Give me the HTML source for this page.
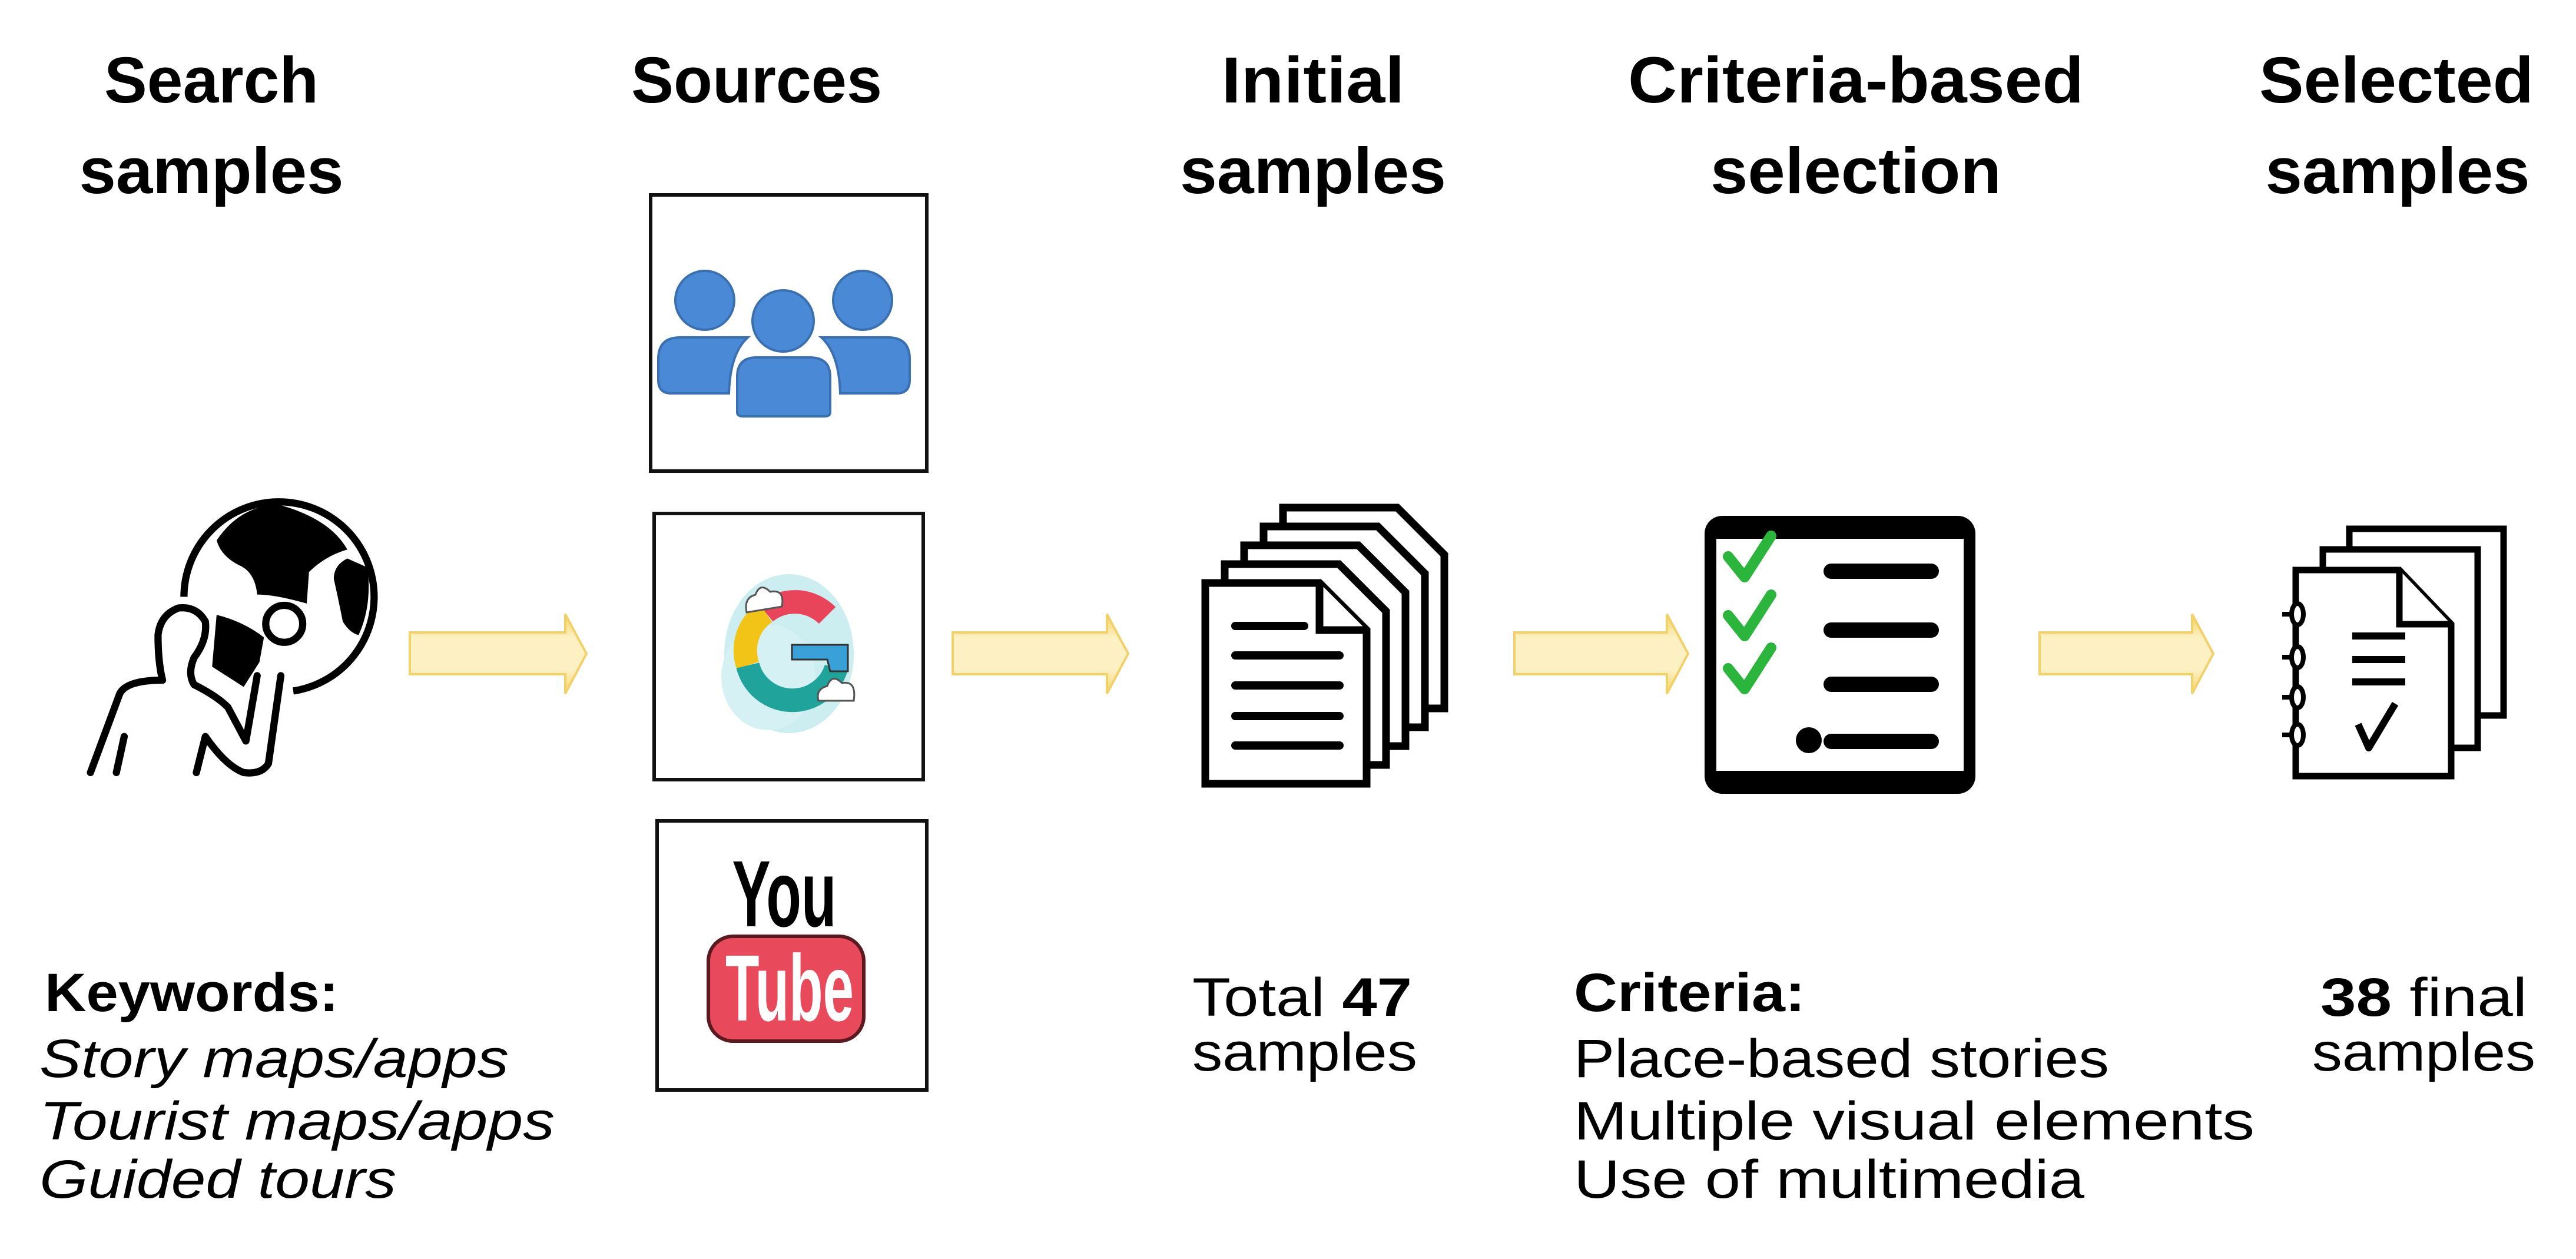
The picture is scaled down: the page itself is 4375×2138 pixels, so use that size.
<!DOCTYPE html>
<html><head><meta charset="utf-8"><style>
html,body{margin:0;padding:0;background:#fff;}
svg{display:block;}
text{font-family:"Liberation Sans",sans-serif;fill:#000;}
.h{font-weight:bold;font-size:110px;}
.b{font-size:92px;}
</style></head><body>
<svg width="4375" height="2138" viewBox="0 0 4375 2138" xmlns="http://www.w3.org/2000/svg">
<defs>
<linearGradient id="ag" x1="0" y1="0" x2="0" y2="1">
<stop offset="0" stop-color="#f4d366"/><stop offset="0.3" stop-color="#fdf1c4"/><stop offset="0.7" stop-color="#fdf1c4"/><stop offset="1" stop-color="#f4d366"/>
</linearGradient>
</defs>
<rect width="4375" height="2138" fill="#fff"/>

<!-- Headings -->
<text class="h" x="359" y="174" text-anchor="middle" textLength="364" lengthAdjust="spacingAndGlyphs">Search</text>
<text class="h" x="359" y="328" text-anchor="middle" textLength="449" lengthAdjust="spacingAndGlyphs">samples</text>
<text class="h" x="1285" y="174" text-anchor="middle" textLength="426" lengthAdjust="spacingAndGlyphs">Sources</text>
<text class="h" x="2230" y="174" text-anchor="middle" textLength="311" lengthAdjust="spacingAndGlyphs">Initial</text>
<text class="h" x="2230" y="328" text-anchor="middle" textLength="452" lengthAdjust="spacingAndGlyphs">samples</text>
<text class="h" x="3152" y="174" text-anchor="middle" textLength="774" lengthAdjust="spacingAndGlyphs">Criteria-based</text>
<text class="h" x="3152" y="328" text-anchor="middle" textLength="494" lengthAdjust="spacingAndGlyphs">selection</text>
<text class="h" x="4070" y="174" text-anchor="middle" textLength="466" lengthAdjust="spacingAndGlyphs">Selected</text>
<text class="h" x="4072" y="328" text-anchor="middle" textLength="449" lengthAdjust="spacingAndGlyphs">samples</text>

<!-- Arrows -->
<g fill="url(#ag)" stroke="#f2d06a" stroke-width="4">
<path d="M696,1074 H960 V1043 L996,1110 L960,1178 V1145 H696 Z"/>
<path d="M1618,1074 H1880 V1043 L1916,1110 L1880,1178 V1145 H1618 Z"/>
<path d="M2572,1074 H2831 V1043 L2867,1110 L2831,1178 V1145 H2572 Z"/>
<path d="M3464,1074 H3723 V1043 L3759,1110 L3723,1178 V1145 H3464 Z"/>
</g>

<!-- Source boxes -->
<g fill="#fff" stroke="#111" stroke-width="6">
<rect x="1105" y="331" width="469" height="469"/>
<rect x="1111" y="872" width="457" height="452"/>
<rect x="1116" y="1394" width="458" height="457"/>
</g>
<!-- users -->
<g fill="#4a89d6" stroke="#3a6fb0" stroke-width="4">
<circle cx="1197" cy="510" r="50"/>
<circle cx="1465" cy="510" r="50"/>
<path d="M1118,610 Q1118,573 1155,573 H1270 Q1240,600 1238,668 H1140 Q1118,668 1118,645 Z"/>
<path d="M1545,610 Q1545,573 1508,573 H1395 Q1425,600 1427,668 H1523 Q1545,668 1545,645 Z"/>
<circle cx="1330" cy="545" r="52"/>
<path d="M1252,640 Q1252,607 1285,607 H1375 Q1410,607 1410,640 V700 Q1410,707 1400,707 H1262 Q1252,707 1252,700 Z"/>
</g>
<!-- google -->
<ellipse cx="1340" cy="1110" rx="110" ry="135" fill="#cdeef0"/>
<ellipse cx="1305" cy="1150" rx="80" ry="90" fill="#d6f1f3"/>
<g fill="none" stroke-width="40">
<path d="M1405,1045 A78,78 0 0 0 1300,1040" stroke="#e8455a"/>
<path d="M1300,1040 A78,78 0 0 0 1270,1130" stroke="#f2c418"/>
<path d="M1270,1130 A78,78 0 0 0 1420,1135" stroke="#1fa39a"/>
</g>
<path d="M1345,1095 H1440 V1140 L1410,1140 L1405,1120 H1345 Z" fill="#3aa0d8" stroke="#333" stroke-width="3"/>
<path d="M1268,1040 q-5,-25 15,-30 q8,-22 25,-5 q25,-5 20,25 z" fill="#fff" stroke="#555" stroke-width="3"/>
<path d="M1390,1190 q-5,-20 15,-25 q8,-22 25,-5 q25,-5 20,30 z" fill="#fff" stroke="#555" stroke-width="3"/>
<!-- youtube -->
<text x="1332" y="1573" text-anchor="middle" font-size="160" font-weight="bold" textLength="177" lengthAdjust="spacingAndGlyphs" fill="#111">You</text>
<rect x="1203" y="1590" width="264" height="178" rx="42" fill="#e84a5c" stroke="#5a1a20" stroke-width="6"/>
<text x="1341" y="1733" text-anchor="middle" font-size="160" font-weight="bold" textLength="218" lengthAdjust="spacingAndGlyphs" style="fill:#fff">Tube</text>

<!-- person with globe -->
<g transform="translate(100,780) scale(0.3827)">
<path d="M555,610 A422,422 0 1 1 1040,1028" fill="none" stroke="#000" stroke-width="32"/>
<path d="M700,360 Q720,430 800,470 Q870,500 880,600 Q960,600 1100,640 L1110,500 Q1180,430 1280,400 Q1200,260 970,200 Q800,210 700,360 Z" fill="#000"/>
<path d="M1280,440 Q1220,470 1220,530 Q1240,620 1260,720 Q1290,770 1330,780 Q1390,650 1370,480 Z" fill="#000"/>
<path d="M700,690 Q820,720 910,790 L890,900 L820,1010 L680,920 Z" fill="#000"/>
<g fill="none" stroke="#000" stroke-width="32" stroke-linecap="round" stroke-linejoin="round">
<circle cx="1000" cy="730" r="82" fill="#fff"/>
<path d="M985,960 L930,1350 Q900,1400 820,1390 Q740,1360 650,1230 L610,1390"/>
<path d="M600,880 Q570,950 600,1000 Q700,1050 750,1100 L830,1250 L880,960"/>
<path d="M600,880 Q660,800 650,720 Q610,650 530,660 Q450,690 440,780 Q440,900 460,980 Q300,980 270,1040 L140,1390"/>
<path d="M290,1230 L255,1390"/>
</g>
</g>

<!-- document stack -->
<g fill="#fff" stroke="#000" stroke-width="13" stroke-linejoin="miter">
<path d="M2179,862 H2373 L2453,942 V1203 H2179 Z"/>
<path d="M2146,894 H2340 L2420,974 V1235 H2146 Z"/>
<path d="M2113,926 H2307 L2387,1006 V1267 H2113 Z"/>
<path d="M2080,958 H2274 L2354,1038 V1299 H2080 Z"/>
<path d="M2047,990 H2241 L2321,1070 V1331 H2047 Z"/>
<path d="M2241,990 V1070 H2321"/>
</g>
<g stroke="#000" stroke-width="14" stroke-linecap="round">
<line x1="2098" y1="1063" x2="2215" y2="1063"/>
<line x1="2098" y1="1113" x2="2275" y2="1113"/>
<line x1="2098" y1="1164" x2="2275" y2="1164"/>
<line x1="2098" y1="1216" x2="2275" y2="1216"/>
<line x1="2098" y1="1266" x2="2275" y2="1266"/>
</g>

<!-- clipboard -->
<rect x="2895" y="876" width="460" height="472" rx="30" fill="#000"/>
<rect x="2915" y="915" width="420" height="394" fill="#fff"/>
<g fill="none" stroke="#2bb53c" stroke-width="18" stroke-linecap="round" stroke-linejoin="round">
<path d="M2935,945 l28,35 l45,-70"/>
<path d="M2935,1045 l28,35 l45,-70"/>
<path d="M2935,1135 l28,35 l45,-70"/>
</g>
<circle cx="3072" cy="1257" r="22" fill="#000"/>
<g stroke="#000" stroke-width="26" stroke-linecap="round">
<line x1="3110" y1="970" x2="3280" y2="970"/>
<line x1="3110" y1="1070" x2="3280" y2="1070"/>
<line x1="3110" y1="1162" x2="3280" y2="1162"/>
<line x1="3110" y1="1259" x2="3280" y2="1259"/>
</g>

<!-- selected docs -->
<g fill="#fff" stroke="#000" stroke-width="11">
<path d="M3990,898 H4252 V1215 H3990 Z"/>
<path d="M3945,933 H4208 V1270 H3945 Z"/>
<path d="M3899,968 H4075 L4163,1060 V1318 H3899 Z"/>
<path d="M4075,968 V1060 H4163"/>
</g>
<g stroke="#000" stroke-width="8" fill="#fff">
<ellipse cx="3902" cy="1043" rx="10" ry="18"/>
<ellipse cx="3902" cy="1116" rx="10" ry="18"/>
<ellipse cx="3902" cy="1184" rx="10" ry="18"/>
<ellipse cx="3902" cy="1248" rx="10" ry="18"/>
<line x1="3876" y1="1043" x2="3892" y2="1043"/>
<line x1="3876" y1="1116" x2="3892" y2="1116"/>
<line x1="3876" y1="1184" x2="3892" y2="1184"/>
<line x1="3876" y1="1248" x2="3892" y2="1248"/>
</g>
<g stroke="#000" stroke-width="12">
<line x1="3995" y1="1080" x2="4085" y2="1080"/>
<line x1="3995" y1="1120" x2="4085" y2="1120"/>
<line x1="3995" y1="1158" x2="4085" y2="1158"/>
</g>
<path d="M4005,1230 l18,40 l45,-75" fill="none" stroke="#000" stroke-width="12" stroke-linejoin="round"/>

<!-- bottom text -->
<text class="b" x="76" y="1717" font-weight="bold" textLength="499" lengthAdjust="spacingAndGlyphs">Keywords:</text>
<text class="b" x="67" y="1829" font-style="italic" textLength="797" lengthAdjust="spacingAndGlyphs">Story maps/apps</text>
<text class="b" x="67" y="1935" font-style="italic" textLength="875" lengthAdjust="spacingAndGlyphs">Tourist maps/apps</text>
<text class="b" x="67" y="2034" font-style="italic" textLength="606" lengthAdjust="spacingAndGlyphs">Guided tours</text>

<text class="b" x="2025" y="1725" textLength="373" lengthAdjust="spacingAndGlyphs">Total <tspan font-weight="bold">47</tspan></text>
<text class="b" x="2025" y="1818" textLength="382" lengthAdjust="spacingAndGlyphs">samples</text>

<text class="b" x="2673" y="1717" font-weight="bold" textLength="393" lengthAdjust="spacingAndGlyphs">Criteria:</text>
<text class="b" x="2673" y="1829" textLength="909" lengthAdjust="spacingAndGlyphs">Place-based stories</text>
<text class="b" x="2673" y="1935" textLength="1156" lengthAdjust="spacingAndGlyphs">Multiple visual elements</text>
<text class="b" x="2673" y="2034" textLength="867" lengthAdjust="spacingAndGlyphs">Use of multimedia</text>

<text class="b" x="3941" y="1725" textLength="351" lengthAdjust="spacingAndGlyphs"><tspan font-weight="bold">38</tspan> final</text>
<text class="b" x="3927" y="1818" textLength="379" lengthAdjust="spacingAndGlyphs">samples</text>
</svg>
</body></html>
